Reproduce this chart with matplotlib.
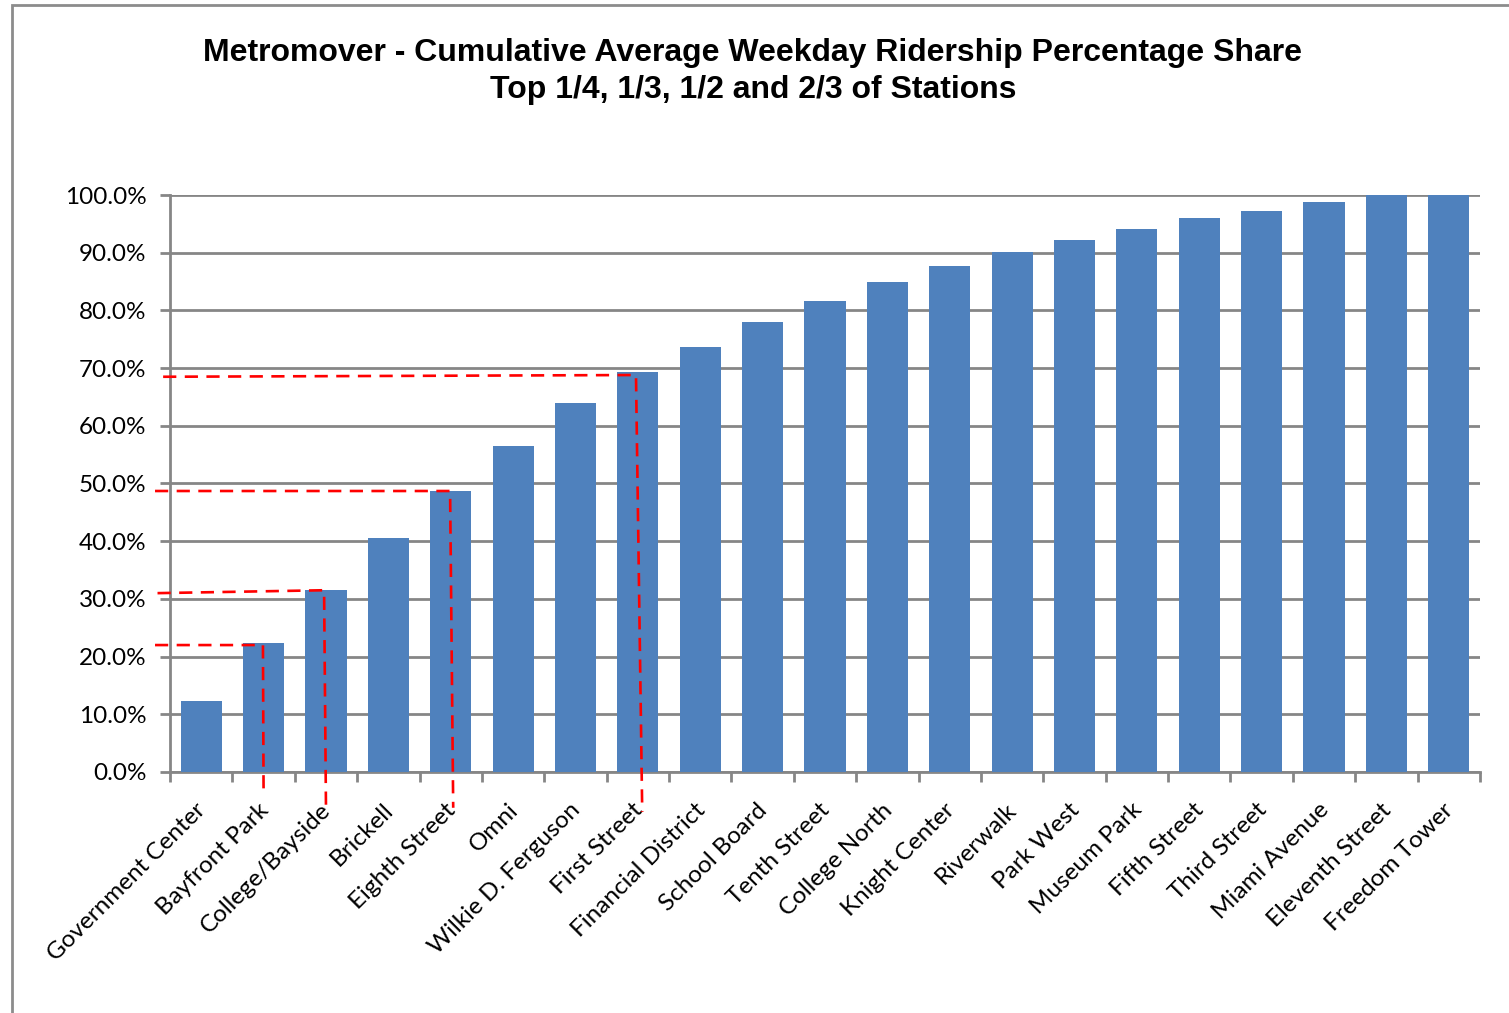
import matplotlib.pyplot as plt
from matplotlib.ticker import FuncFormatter
from matplotlib.patches import Rectangle

stations = ["Government Center", "Bayfront Park", "College/Bayside", "Brickell",
            "Eighth Street", "Omni", "Wilkie D. Ferguson", "First Street",
            "Financial District", "School Board", "Tenth Street", "College North",
            "Knight Center", "Riverwalk", "Park West", "Museum Park", "Fifth Street",
            "Third Street", "Miami Avenue", "Eleventh Street", "Freedom Tower"]
share = [12.3, 22.4, 31.5, 40.6, 48.7, 56.5, 64.0, 69.3, 73.7, 78.0, 81.6,
         84.9, 87.7, 90.1, 92.2, 94.1, 96.0, 97.2, 98.8, 100.0, 100.0]

# red guide lines: (x_left, y_left, x_corner, y_corner, x_bottom, y_bottom)
guides = [(-0.74, 22.0, 0.99, 22.0, 1.00, -3.3),
          (-0.70, 31.0, 1.97, 31.5, 2.00, -5.7),
          (-0.74, 48.7, 3.99, 48.7, 4.04, -6.2),
          (-0.61, 68.5, 6.97, 68.8, 7.07, -6.9)]

grid_col = "#868686"
plt.rcParams['font.family'] = ['Lato', 'DejaVu Sans']

fig = plt.figure(figsize=(15.09, 10.13), dpi=100)
ax = fig.add_axes([170/1509, 1-772/1013, 1310/1509, 577/1013])

x = list(range(len(stations)))
ax.bar(x, share, width=0.66, color="#4F81BD", zorder=3)

ax.set_xlim(-0.5, len(stations) - 0.5)
ax.set_ylim(0, 100)
ax.set_yticks(range(0, 101, 10))
ax.yaxis.set_major_formatter(FuncFormatter(lambda v, p: f"{v:.1f}%"))
ax.grid(axis='y', color=grid_col, linewidth=2, zorder=1)
ax.set_axisbelow(True)

for s in ['top', 'right']:
    ax.spines[s].set_visible(False)
for s in ['left', 'bottom']:
    ax.spines[s].set_color(grid_col)
    ax.spines[s].set_linewidth(2)

ax.set_xticks([i - 0.5 for i in range(len(stations) + 1)])
ax.set_xticklabels([])
ax.tick_params(axis='x', length=7, width=2, color=grid_col)
ax.tick_params(axis='y', length=7, width=2, color=grid_col, labelsize=17.5, pad=10)

for i, name in enumerate(stations):
    ax.annotate(name, (i, 0), xytext=(1, -25), textcoords='offset points',
                rotation=45, ha='right', va='center', rotation_mode='anchor',
                fontsize=17.5, annotation_clip=False)

for xl, yl, xc, yc, xb, yb in guides:
    ax.plot([xl, xc, xb], [yl, yc, yb], color="red", linewidth=1.9,
            linestyle=(0, (5, 3.2)), clip_on=False, zorder=5)

fig.text(0.499, 0.948, "Metromover - Cumulative Average Weekday Ridership Percentage Share",
         ha='center', va='center', fontsize=23, fontweight='bold', family='Liberation Sans')
fig.text(0.499, 0.911, "Top 1/4, 1/3, 1/2 and 2/3 of Stations",
         ha='center', va='center', fontsize=23, fontweight='bold', family='Liberation Sans')

fig.patches.append(Rectangle((12/1509, -0.1), 1.2, 1 - 5/1013 + 0.1,
                             transform=fig.transFigure, fill=False,
                             edgecolor="#8c8c8c", linewidth=2))

fig.savefig("out.png", dpi=100)
